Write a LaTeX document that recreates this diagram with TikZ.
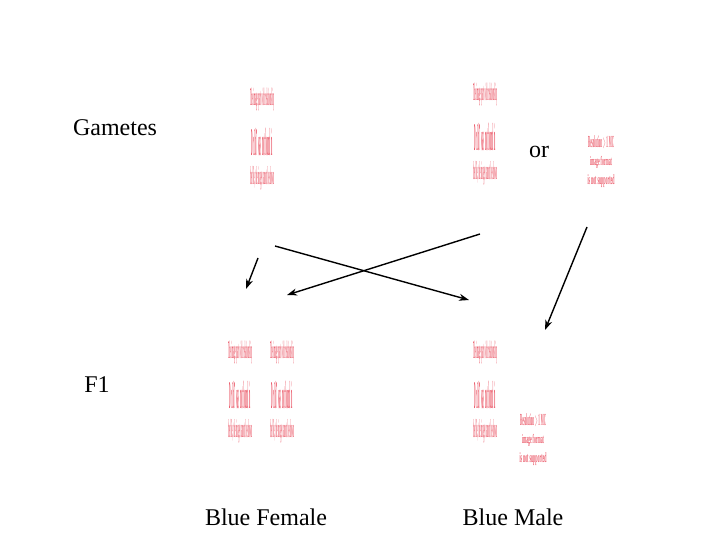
\documentclass[tikz,border=0pt]{standalone}
\usepackage{fontspec}
\setmainfont{Liberation Serif}
\usepackage{graphicx}
\usetikzlibrary{arrows.meta}
\definecolor{phred}{RGB}{236,95,110}
\newcommand\phline[3]{\resizebox*{#1pt}{#2pt}{\bfseries #3}}
\newcommand\phrow[1]{\hbox to 28pt{\hss#1\hss}}
\newcommand\tallph{\vbox{\offinterlineskip
  \phrow{\phline{24}{23}{The image part with relationship}}\vskip17pt
  \phrow{\phline{22}{28}{ID rId7 was not found in}}\vskip10pt
  \phrow{\phline{24}{24}{the file, the image cannot be shown}}}}
\newcommand\smallph{\vbox{\offinterlineskip
  \phrow{\phline{26}{13}{Resolution $>$ 1 MC}}\vskip7pt
  \phrow{\phline{22}{12}{image format}}\vskip7pt
  \phrow{\phline{27}{13}{is not supported}}}}
\tikzset{
  lbl/.style={font=\fontsize{24}{28}\selectfont, inner sep=0pt},
  ph/.style={inner sep=0pt, text=phred, font=\fontsize{7}{8}\selectfont},
  arr/.style={line width=1.4pt, -{Stealth[length=10pt,width=7pt]}}
}
\begin{document}
\begin{tikzpicture}[x=1pt,y=-1pt]
\useasboundingbox (0,0) rectangle (720,540);
\fill[white] (0,0) rectangle (720,540);
% labels
\node[lbl] (gam) at (115,128) {Gametes};
\node[lbl] (or) at (539,152) {or};
\node[lbl] (f1) at (97,385) {F1};
\node[lbl] (bf) at (266,517) {Blue Female};
\node[lbl] (bm) at (513,517) {Blue Male};
% placeholders
\node[ph] (g1) at (262,139) {\tallph};
\node[ph] (g2) at (485,134) {\tallph};
\node[ph] (g3) at (601,162) {\smallph};
\node[ph] (f1a) at (240,392) {\tallph};
\node[ph] (f1b) at (282,392) {\tallph};
\node[ph] (f1c) at (485,392) {\tallph};
\node[ph] (f1d) at (533,440) {\smallph};
% arrow ends
\coordinate (a1s) at (258,258);
\coordinate (a1e) at (246,289);
\coordinate (a2s) at (275,246);
\coordinate (a2e) at (469,300);
\coordinate (a3s) at (480,234);
\coordinate (a3e) at (287,295);
\coordinate (a4s) at (587,227);
\coordinate (a4e) at (545,330);
\draw[arr] (a1s) -- (a1e);
\draw[arr] (a2s) -- (a2e);
\draw[arr] (a3s) -- (a3e);
\draw[arr] (a4s) -- (a4e);
\end{tikzpicture}
\end{document}
